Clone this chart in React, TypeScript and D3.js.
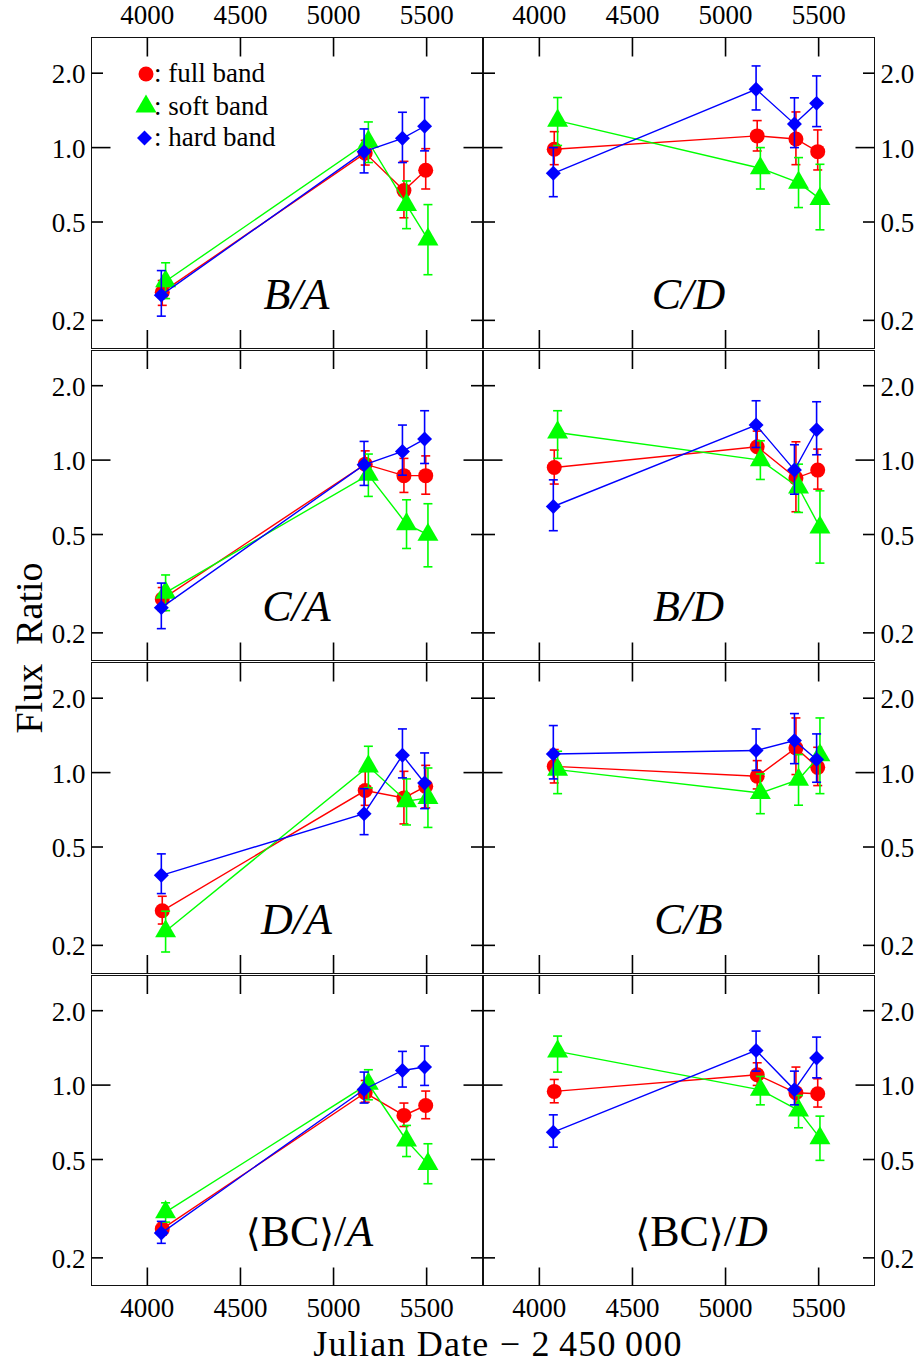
import React from "react";
import * as d3 from "d3";

// panel order: row by row, left then right
const panelNames = ["B/A", "C/D", "C/A", "B/D", "D/A", "C/B", "BC/A", "BC/D"];

const fullDates = [4080, 5170, 5378, 5495];
const softDates = [4098, 5187, 5392, 5507];
const hardDates = [4075, 5164, 5370, 5489];

const fullVal = [
  [0.26, 0.95, 0.67, 0.81],
  [0.985, 1.115, 1.084, 0.963],
  [0.274, 0.963, 0.865, 0.865],
  [0.934, 1.132, 0.846, 0.911],
  [0.276, 0.846, 0.79, 0.88],
  [1.06, 0.966, 1.258, 1.05],
  [0.262, 0.931, 0.754, 0.827],
  [0.943, 1.101, 0.931, 0.922],
];
const fullLo = [
  [0.23, 0.85, 0.52, 0.68],
  [0.853, 0.969, 0.853, 0.812],
  [0.246, 0.838, 0.74, 0.728],
  [0.8, 0.98, 0.618, 0.763],
  [0.244, 0.737, 0.62, 0.72],
  [0.908, 0.859, 0.982, 0.886],
  [0.247, 0.853, 0.68, 0.731],
  [0.848, 0.997, 0.777, 0.815],
];
const fullHi = [
  [0.29, 1.07, 0.88, 0.99],
  [1.16, 1.286, 1.394, 1.179],
  [0.305, 1.09, 1.016, 1.04],
  [1.098, 1.31, 1.186, 1.108],
  [0.316, 1.012, 1.012, 1.07],
  [1.24, 1.118, 1.664, 1.266],
  [0.279, 1.044, 0.846, 0.946],
  [1.054, 1.231, 1.183, 1.061],
];

const softVal = [
  [0.288, 1.057, 0.586, 0.425],
  [1.286, 0.825, 0.721, 0.62],
  [0.291, 0.872, 0.551, 0.499],
  [1.294, 1.0, 0.775, 0.534],
  [0.228, 1.06, 0.766, 0.79],
  [1.028, 0.827, 0.937, 1.175],
  [0.306, 1.012, 0.597, 0.48],
  [1.369, 0.957, 0.79, 0.61],
];
const softLo = [
  [0.245, 0.87, 0.47, 0.306],
  [1.02, 0.68, 0.572, 0.465],
  [0.246, 0.713, 0.439, 0.37],
  [1.016, 0.835, 0.614, 0.383],
  [0.188, 0.867, 0.614, 0.6],
  [0.822, 0.682, 0.738, 0.822],
  [0.279, 0.872, 0.514, 0.399],
  [1.129, 0.832, 0.672, 0.496],
];
const softHi = [
  [0.342, 1.27, 0.733, 0.588],
  [1.594, 1.0, 0.911, 0.856],
  [0.343, 1.058, 0.691, 0.666],
  [1.584, 1.197, 0.963, 0.751],
  [0.275, 1.278, 0.943, 1.044],
  [1.22, 0.988, 1.183, 1.664],
  [0.334, 1.154, 0.687, 0.579],
  [1.579, 1.084, 0.908, 0.749],
];

const hardVal = [
  [0.253, 0.963, 1.09, 1.22],
  [0.787, 1.722, 1.247, 1.51],
  [0.253, 0.957, 1.084, 1.216],
  [0.649, 1.386, 0.911, 1.327],
  [0.384, 0.682, 1.175, 0.908],
  [1.19, 1.228, 1.347, 1.129],
  [0.252, 0.96, 1.146, 1.183],
  [0.645, 1.381, 0.957, 1.286],
];
const hardLo = [
  [0.208, 0.79, 0.87, 0.97],
  [0.633, 1.42, 1.0, 1.216],
  [0.208, 0.79, 0.869, 0.969],
  [0.518, 1.125, 0.728, 1.051],
  [0.324, 0.561, 0.952, 0.715],
  [0.943, 1.02, 1.087, 0.914],
  [0.229, 0.846, 0.982, 0.997],
  [0.561, 1.139, 0.832, 1.07],
];
const hardHi = [
  [0.318, 1.19, 1.39, 1.594],
  [1.0, 2.14, 1.59, 1.95],
  [0.318, 1.19, 1.386, 1.584],
  [0.832, 1.738, 1.154, 1.722],
  [0.469, 0.861, 1.502, 1.201],
  [1.55, 1.502, 1.733, 1.434],
  [0.281, 1.129, 1.369, 1.439],
  [0.758, 1.654, 1.139, 1.564],
];

const xTicks = [4000, 4500, 5000, 5500];
const yTicks = [0.2, 0.5, 1.0, 2.0];
const yTickLabels = ["0.2", "0.5", "1.0", "2.0"];

const bands = [
  { name: "full band", color: "#ff0000", shape: "circle", dates: fullDates, val: fullVal, lo: fullLo, hi: fullHi },
  { name: "soft band", color: "#00ff00", shape: "triangle", dates: softDates, val: softVal, lo: softLo, hi: softHi },
  { name: "hard band", color: "#0000ff", shape: "diamond", dates: hardDates, val: hardVal, lo: hardLo, hi: hardHi },
];

const W = 922;
const H = 1364;
const colLeft = [91.5, 483.5];
const panelW = 391;
const row0 = 37.5;
const rowStep = 312.5;
const panelH = 310.5;
const serif = "'Liberation Serif', 'Times New Roman', serif";

const triPath = d3.symbol(d3.symbolTriangle, 190)();
const diaPath = d3.symbol(d3.symbolSquare, 112)();

function Marker({ shape, x, y, color }) {
  if (shape === "circle") return <circle cx={x} cy={y} r={7.5} fill={color} />;
  if (shape === "triangle") return <path d={triPath} transform={`translate(${x},${y})`} fill={color} />;
  return <path d={diaPath} transform={`translate(${x},${y}) rotate(45)`} fill={color} />;
}

function PanelLabel({ name, x, y }) {
  if (name.startsWith("BC")) {
    const den = name.split("/")[1];
    return (
      <text x={x + 218} y={y} fontFamily={serif} fontSize={44} textAnchor="middle">
        <tspan fontFamily="'DejaVu Serif', serif" fontSize={38}>{"\u27E8"}</tspan>
        <tspan>BC</tspan>
        <tspan fontFamily="'DejaVu Serif', serif" fontSize={38}>{"\u27E9"}</tspan>
        <tspan>/</tspan>
        <tspan fontStyle="italic">{den}</tspan>
      </text>
    );
  }
  return (
    <text x={x + 205} y={y} fontFamily={serif} fontSize={44} fontStyle="italic" textAnchor="middle">
      {name}
    </text>
  );
}

function Panel({ idx }) {
  const col = idx % 2;
  const row = Math.floor(idx / 2);
  const left = colLeft[col];
  const top = row0 + row * rowStep;
  const bottom = top + panelH;
  const x = d3.scaleLinear().domain([3700, 5800]).range([left, left + panelW]);
  const y = d3.scaleLog().domain([0.1546, 2.789]).range([bottom, top]);
  const line = d3.line<[number, number]>().x((d) => x(d[0])).y((d) => y(d[1]));

  return (
    <g>
      <rect x={left} y={top} width={panelW} height={panelH} fill="none" stroke="#111" strokeWidth={1} shapeRendering="crispEdges" />
      {xTicks.map((t) => (
        <g key={t} stroke="#000" strokeWidth={1.6}>
          <line x1={x(t)} x2={x(t)} y1={top} y2={top + 19} />
          <line x1={x(t)} x2={x(t)} y1={bottom} y2={bottom - 18} />
        </g>
      ))}
      {yTicks.map((t) => {
        const len = t === 1 ? 19 : 11.5;
        return (
          <g key={t} stroke="#000" strokeWidth={1.6}>
            <line x1={left} x2={left + len} y1={y(t)} y2={y(t)} />
            <line x1={left + panelW} x2={left + panelW - len} y1={y(t)} y2={y(t)} />
          </g>
        );
      })}
      {yTicks.map((t, i) =>
        col === 0 ? (
          <text key={t} x={left - 6} y={y(t) + 10} textAnchor="end" fontFamily={serif} fontSize={27}>
            {yTickLabels[i]}
          </text>
        ) : (
          <text key={t} x={left + panelW + 6} y={y(t) + 10} textAnchor="start" fontFamily={serif} fontSize={27}>
            {yTickLabels[i]}
          </text>
        )
      )}
      {row === 0 &&
        xTicks.map((t) => (
          <text key={t} x={x(t)} y={24} textAnchor="middle" fontFamily={serif} fontSize={27}>
            {t}
          </text>
        ))}
      {row === 3 &&
        xTicks.map((t) => (
          <text key={t} x={x(t)} y={1317} textAnchor="middle" fontFamily={serif} fontSize={27}>
            {t}
          </text>
        ))}
      <PanelLabel name={panelNames[idx]} x={left} y={top + 271} />
      {bands.map((b) => {
        const pts: [number, number][] = b.dates.map((d, i) => [d, b.val[idx][i]]);
        return (
          <g key={b.name}>
            <path d={line(pts) || ""} fill="none" stroke={b.color} strokeWidth={1.4} />
            {b.dates.map((d, i) => {
              const cx = x(d);
              const y1 = y(b.lo[idx][i]);
              const y2 = y(b.hi[idx][i]);
              return (
                <g key={i} stroke={b.color} strokeWidth={1.6}>
                  <line x1={cx} x2={cx} y1={y1} y2={y2} />
                  <line x1={cx - 4.5} x2={cx + 4.5} y1={y1} y2={y1} />
                  <line x1={cx - 4.5} x2={cx + 4.5} y1={y2} y2={y2} />
                </g>
              );
            })}
            {b.dates.map((d, i) => (
              <Marker key={i} shape={b.shape} x={x(d)} y={y(b.val[idx][i])} color={b.color} />
            ))}
          </g>
        );
      })}
    </g>
  );
}

function Legend() {
  const rows = [74, 106.5, 138];
  const base = [82, 114.5, 146];
  return (
    <g>
      {bands.map((b, i) => (
        <g key={b.name}>
          <Marker shape={b.shape} x={b.shape === "diamond" ? 144.5 : 146} y={rows[i]} color={b.color} />
          <text x={154} y={base[i]} fontFamily={serif} fontSize={27}>
            {": " + b.name}
          </text>
        </g>
      ))}
    </g>
  );
}

export default function App() {
  return (
    <svg width={W} height={H} style={{ position: "absolute", left: 0, top: 0, background: "#fff" }}>
      <rect width={W} height={H} fill="#fff" />
      {panelNames.map((_, i) => (
        <Panel key={i} idx={i} />
      ))}
      <Legend />
      <text
        transform="translate(42,648) rotate(-90)"
        textAnchor="middle"
        fontFamily={serif}
        fontSize={38}
        style={{ whiteSpace: "pre" }}
      >
        {"Flux  Ratio"}
      </text>
      <text x={498} y={1355.5} textAnchor="middle" fontFamily={serif} fontSize={36} letterSpacing={1.2}>
        {"Julian Date \u2212 2\u2009450\u2009000"}
      </text>
    </svg>
  );
}
